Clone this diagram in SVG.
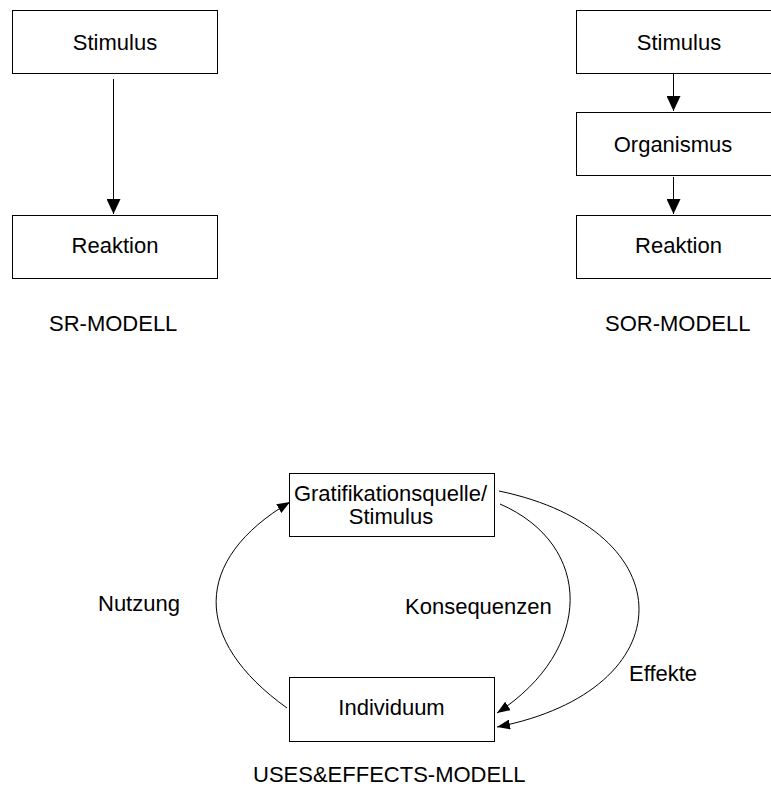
<svg xmlns="http://www.w3.org/2000/svg" width="771" height="796" viewBox="0 0 771 796">
<style>
.box{fill:#fff;stroke:#000;stroke-width:1}
.t{font-family:"Liberation Sans",Arial,sans-serif;font-size:22px;fill:#000;text-anchor:middle}
.l{font-family:"Liberation Sans",Arial,sans-serif;font-size:22px;fill:#000}
.c{fill:none;stroke:#000;stroke-width:1}
</style>
<defs>
<marker id="big" markerUnits="userSpaceOnUse" markerWidth="15" markerHeight="14" refX="15" refY="7" orient="auto">
<path d="M0,0 L15,7 L0,14 z" fill="#000"/>
</marker>
<marker id="small" markerUnits="userSpaceOnUse" markerWidth="13" markerHeight="10" refX="13" refY="5" orient="auto">
<path d="M0,0 L13,5 L0,10 z" fill="#000"/>
</marker>
</defs>
<rect width="771" height="796" fill="#fff"/>
<g id="connectors">
<line class="c" x1="113.5" y1="79" x2="113.5" y2="214" marker-end="url(#big)"/>
<line class="c" x1="673.5" y1="74" x2="673.5" y2="111" marker-end="url(#big)"/>
<line class="c" x1="673.5" y1="177" x2="673.5" y2="214" marker-end="url(#big)"/>
<path class="c" d="M287,708 C192,640 192,560 290,502" marker-end="url(#small)"/>
<path class="c" d="M500,504 C594,545 594,650 497,713" marker-end="url(#small)"/>
<path class="c" d="M499,491 C686,530 686,690 497,727" marker-end="url(#small)"/>
</g>
<g id="sr-stimulus">
<rect class="box" x="12.5" y="10.5" width="205" height="63"/>
<text class="t" x="115" y="50">Stimulus</text>
</g>
<g id="sr-reaktion">
<rect class="box" x="12.5" y="215.5" width="205" height="63"/>
<text class="t" x="115" y="253">Reaktion</text>
</g>
<g id="sor-stimulus">
<rect class="box" x="576.5" y="10.5" width="205" height="63"/>
<text class="t" x="679" y="50">Stimulus</text>
</g>
<g id="sor-organismus">
<rect class="box" x="576.5" y="112.5" width="205" height="63"/>
<text class="t" x="673" y="152">Organismus</text>
</g>
<g id="sor-reaktion">
<rect class="box" x="576.5" y="215.5" width="205" height="63"/>
<text class="t" x="678.5" y="253">Reaktion</text>
</g>
<g id="ue-gratifikation">
<rect class="box" x="289.5" y="473.5" width="205" height="63"/>
<text class="t" x="390.5" y="501" font-size="21">Gratifikationsquelle/</text>
<text class="t" x="391" y="524" font-size="21">Stimulus</text>
</g>
<g id="ue-individuum">
<rect class="box" x="289.5" y="677.5" width="205" height="64"/>
<text class="t" x="391.5" y="715">Individuum</text>
</g>
<g id="labels">
<text class="l" x="49" y="331">SR-MODELL</text>
<text class="l" x="605" y="331">SOR-MODELL</text>
<text class="l" x="98" y="611">Nutzung</text>
<text class="l" x="405" y="614">Konsequenzen</text>
<text class="l" x="629" y="681">Effekte</text>
<text class="l" x="253" y="782">USES&amp;EFFECTS-MODELL</text>
</g>
</svg>
